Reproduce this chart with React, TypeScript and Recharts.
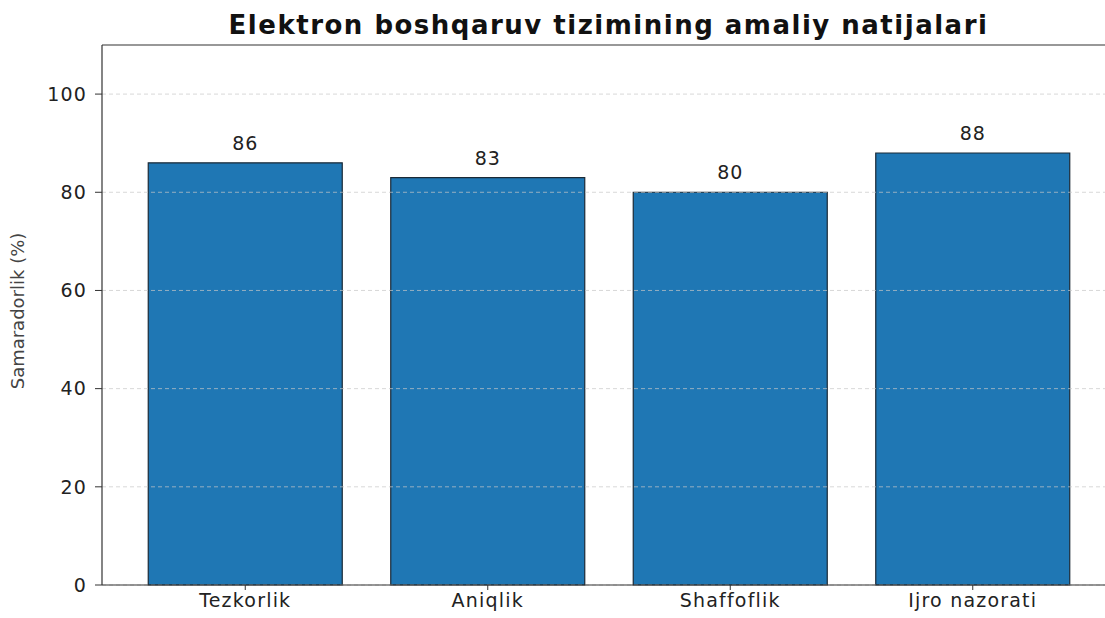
import { BarChart, Bar, XAxis, YAxis, ReferenceLine, LabelList } from "recharts";

const categories = ["Tezkorlik", "Aniqlik", "Shaffoflik", "Ijro nazorati"];
const values = [86, 83, 80, 88];
const yTicks = [0, 20, 40, 60, 80, 100];

const data = categories.map((name, i) => ({ name, value: values[i] }));

const font = "'DejaVu Sans', sans-serif";

export default function App() {
  return (
    <div style={{ position: "fixed", left: 0, top: 0, width: 1105, height: 618, background: "#fff", overflow: "hidden" }}>
      <div
        style={{
          position: "absolute",
          left: 102,
          width: 1013,
          top: 10,
          textAlign: "center",
          fontFamily: font,
          fontWeight: "bold",
          fontSize: 26,
          letterSpacing: 1.5,
          color: "#111",
          lineHeight: "30px",
        }}
      >
        Elektron boshqaruv tizimining amaliy natijalari
      </div>
      <BarChart
        width={1115}
        height={618}
        data={data}
        margin={{ top: 45, right: 0, bottom: 0, left: 12 }}
        barCategoryGap="10%"
      >
        {yTicks.map((t) => (
          <ReferenceLine key={t} y={t} stroke="#c8c8c8" strokeDasharray="4 3" strokeOpacity={0.7} />
        ))}
        <Bar dataKey="value" fill="#1f77b4" stroke="#1b2a36" strokeWidth={1.2} isAnimationActive={false}>
          <LabelList
            dataKey="value"
            position="top"
            offset={13}
            fill="#222"
            fontSize={19}
            fontFamily={font}
            style={{ letterSpacing: 1 }}
          />
        </Bar>
        <ReferenceLine y={110} stroke="#333" strokeWidth={1.2} />
        <XAxis
          dataKey="name"
          height={33}
          padding={{ left: 22, right: 21 }}
          tick={{ fill: "#222", fontSize: 19, fontFamily: font, style: { letterSpacing: 1.2 } }}
          tickSize={5}
          tickMargin={4}
          axisLine={{ stroke: "#333", strokeWidth: 1.2 }}
          tickLine={{ stroke: "#333" }}
        />
        <YAxis
          width={90}
          domain={[0, 110]}
          ticks={yTicks}
          interval={0}
          tick={{ fill: "#222", fontSize: 19, fontFamily: font, style: { letterSpacing: 1.2 } }}
          tickSize={7}
          tickMargin={8}
          axisLine={{ stroke: "#333", strokeWidth: 1.2 }}
          tickLine={{ stroke: "#333" }}
          label={{
            value: "Samaradorlik (%)",
            angle: -90,
            position: "insideLeft",
            offset: 0,
            dx: 6,
            dy: -4,
            style: { textAnchor: "middle", fill: "#444", fontSize: 18, fontFamily: font },
          }}
        />
      </BarChart>
    </div>
  );
}
